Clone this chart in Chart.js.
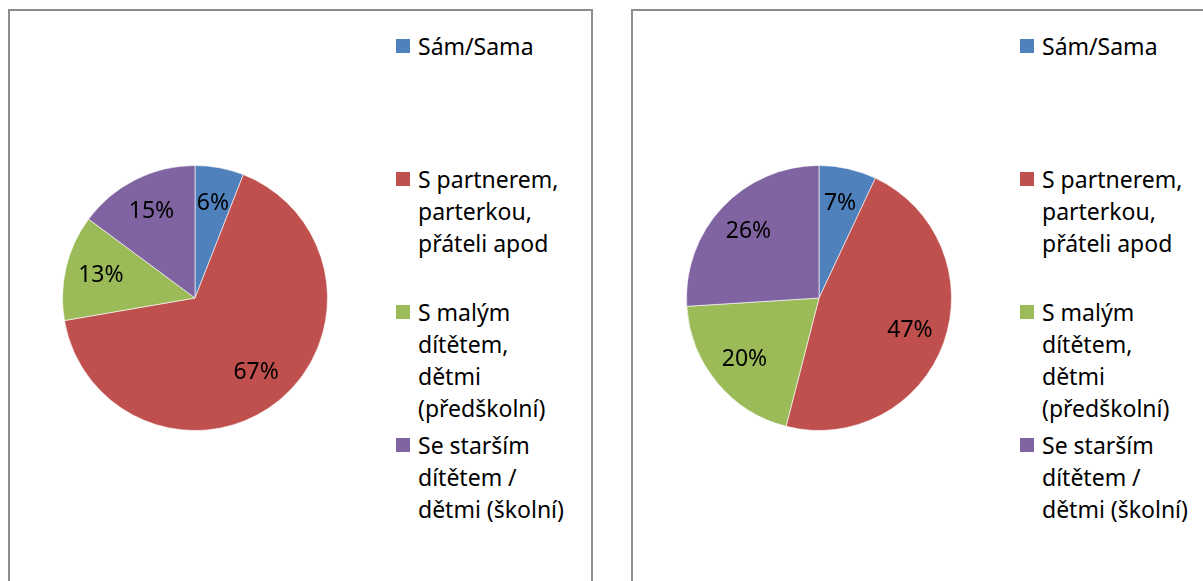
<!DOCTYPE html>
<html>
<head>
<meta charset="utf-8">
<script src="https://cdn.jsdelivr.net/npm/chart.js@4/dist/chart.umd.min.js"></script>
<style>
  body { margin: 0; background: #fff; font-family: "Noto Sans", sans-serif; }
  .frame { position: absolute; top: 9px; height: 620px; border: 2px solid #8c8c8c; box-sizing: border-box; }
  .pie { position: absolute; top: 163px; width: 270px; height: 270px; }
  .legend-item { position: absolute; display: flex; align-items: flex-start; font-size: 23px; line-height: 32px; color: #000; }
  .legend-item .box { width: 14px; height: 14px; margin-top: 9px; margin-right: 8px; flex: none; }
</style>
</head>
<body>
<div class="frame" style="left:8px; width:585px;"></div>
<div class="frame" style="left:631px; width:600px;"></div>
<canvas id="pie-left" class="pie" style="left:60px;"></canvas>
<canvas id="pie-right" class="pie" style="left:684px;"></canvas>
<div id="legend-left"></div>
<div id="legend-right"></div>
<script>
const categories = [
  ["Sám/Sama"],
  ["S partnerem,", "parterkou,", "přáteli apod"],
  ["S malým", "dítětem,", "dětmi", "(předškolní)"],
  ["Se starším", "dítětem /", "dětmi (školní)"],
];
const leftValues = [6, 67, 13, 15];
const rightValues = [7, 47, 20, 26];
const sliceColors = ["#4F81BD", "#C0504D", "#9BBB59", "#8064A2"];

// percentage labels inside the slices
const sliceLabels = {
  id: "sliceLabels",
  afterDatasetsDraw(chart) {
    const ctx = chart.ctx;
    const meta = chart.getDatasetMeta(0);
    const values = chart.data.datasets[0].data;
    ctx.save();
    ctx.font = '23px "Noto Sans"';
    ctx.fillStyle = "#000";
    ctx.textAlign = "center";
    ctx.textBaseline = "middle";
    meta.data.forEach((arc, i) => {
      const mid = (arc.startAngle + arc.endAngle) / 2;
      const r = arc.outerRadius * 0.73;
      ctx.fillText(values[i] + "%", arc.x + Math.cos(mid) * r, arc.y + Math.sin(mid) * r);
    });
    ctx.restore();
  },
};

const makePie = (id, values) => {
  new Chart(document.getElementById(id).getContext("2d"), {
    type: "pie",
    data: {
      labels: categories.map((c) => c.join(" ")),
      datasets: [
        {
          data: values,
          backgroundColor: sliceColors,
          borderColor: "rgba(255,255,255,0.6)",
          borderWidth: 1,
        },
      ],
    },
    options: {
      responsive: false,
      animation: false,
      layout: { padding: 2 },
      plugins: { legend: { display: false }, tooltip: { enabled: false } },
    },
    plugins: [sliceLabels],
  });
};

const makeLegend = (id, left) => {
  const holder = document.getElementById(id);
  categories.forEach((lines, i) => {
    const item = document.createElement("div");
    item.className = "legend-item";
    item.style.left = left + "px";
    item.style.top = 30 + i * 133 + "px";
    const box = document.createElement("span");
    box.className = "box";
    box.style.background = sliceColors[i];
    const text = document.createElement("span");
    text.innerHTML = lines.join("<br>");
    item.appendChild(box);
    item.appendChild(text);
    holder.appendChild(item);
  });
};

makePie("pie-left", leftValues);
makePie("pie-right", rightValues);
makeLegend("legend-left", 396);
makeLegend("legend-right", 1020);
</script>
</body>
</html>
